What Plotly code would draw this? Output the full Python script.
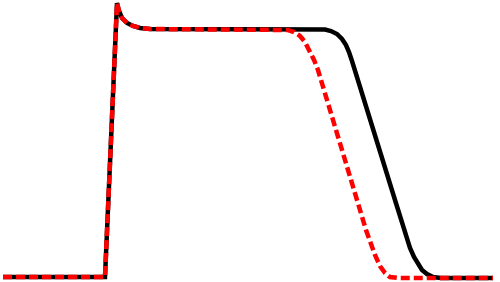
import plotly.graph_objects as go

# Black solid trace (x, y in picture coordinates)
black_x = [3, 105, 117, 119, 122, 127, 133, 140, 150, 200, 250, 300, 318, 325, 331, 337, 342, 346, 349, 352, 395, 406, 410, 414, 418, 422, 427, 433, 441, 460, 493]
black_y = [277, 277, 3, 11, 18, 23, 26, 28, 29, 29, 29, 29, 29, 29.5, 31, 34, 39, 45, 52, 61, 200, 237, 248, 257, 264, 270, 274, 277, 278, 278, 278]

# Red dashed trace
red_x = [3, 105, 117, 119, 122, 127, 133, 140, 150, 200, 250, 282, 288, 294, 300, 305, 310, 314, 318, 322, 357, 366, 370, 375, 380, 385, 390, 398, 420, 493]
red_y = [277, 277, 3, 11, 18, 23, 26, 28, 29, 29, 29, 29, 30, 32, 36, 42, 51, 60, 70, 83, 200, 230, 242, 255, 266, 273, 277, 278, 278, 278]

fig = go.Figure()
fig.add_trace(go.Scatter(x=black_x, y=black_y, mode="lines",
                         line=dict(color="black", width=4.5), hoverinfo="skip"))
fig.add_trace(go.Scatter(x=red_x, y=red_y, mode="lines",
                         line=dict(color="#ff0000", width=4.5, dash="9px,4px"), hoverinfo="skip"))

fig.update_layout(
    width=500, height=282,
    margin=dict(l=0, r=0, t=0, b=0),
    paper_bgcolor="white", plot_bgcolor="white",
    showlegend=False,
    xaxis=dict(range=[0, 500], visible=False, fixedrange=True),
    yaxis=dict(range=[282, 0], visible=False, fixedrange=True),
)
fig.write_html("out.html", config={"displayModeBar": False})
